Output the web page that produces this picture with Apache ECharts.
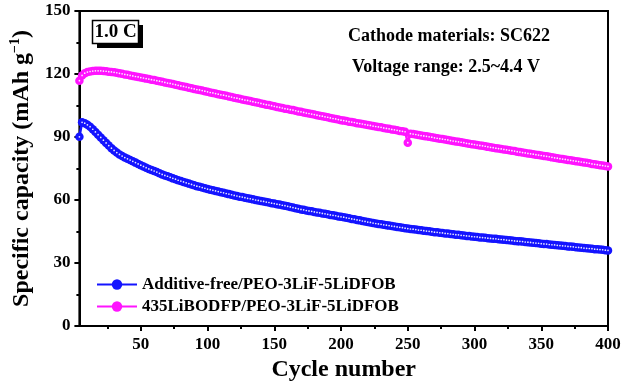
<!DOCTYPE html>
<html>
<head>
<meta charset="utf-8">
<script src="https://cdn.jsdelivr.net/npm/echarts@6/dist/echarts.min.js"></script>
<style>
  html, body { margin: 0; padding: 0; background: #fff; }
  #chart { width: 625px; height: 389px; }
</style>
</head>
<body>
<div id="chart"></div>
<script>
// Discharge capacity recorded every second cycle, from cycle 4 to 400
const firstCycle = 4;
const cycleStep = 2;

const additiveFree = [
  90.1, 97.0, 96.6, 95.8, 94.9, 93.7, 92.4, 91.1, 89.8, 88.5,
  87.2, 85.9, 84.7, 83.6, 82.6, 81.7, 80.9, 80.2, 79.6, 79.0,
  78.4, 77.8, 77.2, 76.6, 76.0, 75.4, 74.8, 74.3, 73.8, 73.3,
  72.7, 72.2, 71.7, 71.3, 70.8, 70.3, 69.9, 69.4, 69.0, 68.6,
  68.2, 67.8, 67.4, 67.0, 66.6, 66.3, 65.9, 65.6, 65.2, 64.9,
  64.6, 64.3, 64.0, 63.7, 63.4, 63.1, 62.8, 62.5, 62.2, 61.9,
  61.6, 61.4, 61.1, 60.8, 60.6, 60.3, 60.0, 59.8, 59.5, 59.3,
  59.0, 58.8, 58.5, 58.3, 58.0, 57.8, 57.5, 57.3, 57.0, 56.7,
  56.4, 56.1, 55.8, 55.5, 55.3, 55.0, 54.8, 54.6, 54.3, 54.1,
  53.9, 53.6, 53.4, 53.2, 52.9, 52.7, 52.5, 52.2, 52.0, 51.8,
  51.5, 51.3, 51.0, 50.8, 50.5, 50.3, 50.0, 49.8, 49.5, 49.3,
  49.0, 48.8, 48.6, 48.4, 48.2, 48.0, 47.8, 47.6, 47.4, 47.2,
  47.0, 46.8, 46.6, 46.4, 46.2, 46.1, 45.9, 45.7, 45.6, 45.4,
  45.2, 45.1, 44.9, 44.7, 44.6, 44.4, 44.3, 44.1, 44.0, 43.8,
  43.7, 43.5, 43.4, 43.2, 43.1, 42.9, 42.8, 42.6, 42.5, 42.4,
  42.2, 42.1, 42.0, 41.8, 41.7, 41.6, 41.5, 41.3, 41.2, 41.1,
  40.9, 40.8, 40.7, 40.5, 40.4, 40.3, 40.2, 40.0, 39.9, 39.8,
  39.6, 39.5, 39.4, 39.2, 39.1, 39.0, 38.8, 38.7, 38.6, 38.4,
  38.3, 38.2, 38.1, 37.9, 37.8, 37.7, 37.5, 37.4, 37.3, 37.1,
  37.0, 36.9, 36.8, 36.6, 36.5, 36.4, 36.3, 36.1, 36.0
];

const withLiBODFP = [
  116.8, 119.3, 120.4, 120.9, 121.2, 121.4, 121.5, 121.5, 121.5, 121.4,
  121.3, 121.1, 121.0, 120.8, 120.6, 120.3, 120.1, 119.8, 119.6, 119.3,
  119.1, 118.8, 118.6, 118.3, 118.1, 117.8, 117.6, 117.3, 117.1, 116.8,
  116.6, 116.3, 116.0, 115.7, 115.5, 115.2, 114.9, 114.6, 114.3, 114.1,
  113.8, 113.5, 113.2, 112.9, 112.6, 112.4, 112.1, 111.8, 111.5, 111.2,
  111.0, 110.7, 110.4, 110.1, 109.9, 109.6, 109.3, 109.0, 108.7, 108.5,
  108.2, 107.9, 107.6, 107.4, 107.1, 106.8, 106.5, 106.3, 106.0, 105.7,
  105.4, 105.2, 104.9, 104.6, 104.3, 104.1, 103.8, 103.5, 103.3, 103.0,
  102.8, 102.5, 102.2, 102.0, 101.7, 101.4, 101.2, 100.9, 100.7, 100.4,
  100.1, 99.9, 99.6, 99.4, 99.1, 98.8, 98.6, 98.3, 98.0, 97.8,
  97.6, 97.3, 97.1, 96.9, 96.6, 96.4, 96.2, 95.9, 95.7, 95.5,
  95.2, 95.0, 94.8, 94.6, 94.3, 94.1, 93.9, 93.6, 93.4, 93.2,
  92.9, 92.7, 92.5, 87.3, 91.6, 91.4, 91.2, 90.9, 90.7, 90.5,
  90.3, 90.1, 89.9, 89.6, 89.4, 89.2, 89.0, 88.8, 88.6, 88.3,
  88.1, 87.9, 87.7, 87.5, 87.3, 87.0, 86.8, 86.6, 86.4, 86.2,
  86.0, 85.8, 85.6, 85.3, 85.1, 84.9, 84.7, 84.5, 84.3, 84.1,
  83.9, 83.7, 83.5, 83.3, 83.0, 82.8, 82.6, 82.4, 82.2, 82.0,
  81.8, 81.6, 81.4, 81.2, 81.0, 80.8, 80.6, 80.3, 80.1, 79.9,
  79.7, 79.5, 79.3, 79.1, 78.9, 78.7, 78.5, 78.3, 78.1, 77.9,
  77.7, 77.5, 77.2, 77.0, 76.8, 76.6, 76.4, 76.2, 76.0
];

const seriesNames = ['Additive-free/PEO-3LiF-5LiDFOB', '435LiBODFP/PEO-3LiF-5LiDFOB'];
const xMajorTicks = [50, 100, 150, 200, 250, 300, 350, 400];
const xMinorTicks = [25, 75, 125, 175, 225, 275, 325, 375];
const yTicks = [0, 30, 60, 90, 120, 150];

const BLUE = '#1414ff';
const PINK = '#ff14ff';
const FONT = '"Liberation Serif", "Times New Roman", serif';

function pairs(values) {
  return values.map((v, i) => [firstCycle + i * cycleStep, v]);
}

// bright centre drawn on top of each ball marker
function glints(values) {
  return {
    type: 'scatter', data: pairs(values), silent: true,
    symbol: 'circle', symbolSize: 1.7, z: 3,
    itemStyle: { color: '#ffffff', opacity: 0.9 }
  };
}

const chart = echarts.init(document.getElementById('chart'), null, { renderer: 'canvas' });

const option = {
  animation: false,
  backgroundColor: '#ffffff',
  grid: {
    left: 77, right: 17, top: 11, bottom: 63,
    show: true, borderColor: '#000', borderWidth: 2, backgroundColor: 'transparent'
  },
  legend: {
    orient: 'vertical',
    left: 91, top: 271,
    itemWidth: 40, itemHeight: 13, itemGap: 5,
    textStyle: { fontFamily: FONT, fontWeight: 'bold', fontSize: 17, color: '#000' },
    data: seriesNames
  },
  xAxis: [
    {
      type: 'value', min: firstCycle, max: 400,
      axisLine: { show: true, lineStyle: { color: '#000', width: 2 } },
      axisTick: { show: true, customValues: xMajorTicks, length: 5, lineStyle: { color: '#000', width: 2 } },
      axisLabel: {
        customValues: xMajorTicks, margin: 10,
        fontFamily: FONT, fontWeight: 'bold', fontSize: 17, color: '#000'
      },
      splitLine: { show: false },
      name: 'Cycle number', nameLocation: 'middle', nameGap: 30,
      nameTextStyle: { fontFamily: FONT, fontWeight: 'bold', fontSize: 24, color: '#000' }
    },
    {
      type: 'value', min: firstCycle, max: 400, position: 'bottom',
      axisLine: { show: false },
      axisTick: { show: true, customValues: xMinorTicks, length: 3, lineStyle: { color: '#000', width: 2 } },
      axisLabel: { show: false },
      splitLine: { show: false }
    }
  ],
  yAxis: {
    type: 'value', min: 0, max: 150, interval: 30,
    axisLine: { show: true, lineStyle: { color: '#000', width: 2 } },
    axisTick: { show: true, length: 5, lineStyle: { color: '#000', width: 2 } },
    minorTick: { show: true, splitNumber: 2, length: 3, lineStyle: { color: '#000', width: 2 } },
    axisLabel: {
      margin: 9, fontFamily: FONT, fontWeight: 'bold', fontSize: 17, color: '#000',
      formatter: v => (yTicks.indexOf(v) >= 0 ? String(v) : '')
    },
    splitLine: { show: false },
    minorSplitLine: { show: false },
    name: '{a|Specific capacity (mAh g}{s|−1}{a|)}',
    nameLocation: 'middle', nameGap: 34, nameRotate: 90,
    nameTextStyle: {
      fontFamily: FONT, fontWeight: 'bold', color: '#000',
      rich: {
        a: { fontFamily: FONT, fontWeight: 'bold', fontSize: 24, color: '#000', lineHeight: 28 },
        s: { fontFamily: FONT, fontWeight: 'bold', fontSize: 14, color: '#000', verticalAlign: 'top', lineHeight: 28, padding: [0, 0, 10, 0] }
      }
    }
  },
  series: [
    {
      name: seriesNames[0], type: 'line', data: pairs(additiveFree), z: 2,
      symbol: 'circle', symbolSize: 8.5, showAllSymbol: true,
      lineStyle: { color: BLUE, width: 2.5 },
      itemStyle: { color: BLUE, borderWidth: 0 }
    },
    {
      name: seriesNames[1], type: 'line', data: pairs(withLiBODFP), z: 2,
      symbol: 'circle', symbolSize: 8.5, showAllSymbol: true,
      lineStyle: { color: PINK, width: 2.5 },
      itemStyle: { color: PINK, borderWidth: 0 }
    },
    glints(additiveFree),
    glints(withLiBODFP)
  ],
  graphic: [
    { type: 'rect', shape: { x: 97, y: 25, width: 46, height: 23 }, style: { fill: '#000' }, z: 10 },
    { type: 'rect', shape: { x: 92.5, y: 20.5, width: 46, height: 23 }, style: { fill: '#fff', stroke: '#000', lineWidth: 1.5 }, z: 11 },
    {
      type: 'text', x: 115.5, y: 32.5, z: 12,
      style: { text: '1.0 C', fontFamily: FONT, fontWeight: 'bold', fontSize: 19, fill: '#000', align: 'center', verticalAlign: 'middle' }
    },
    {
      type: 'text', x: 449, y: 36, z: 12,
      style: { text: 'Cathode materials: SC622', fontFamily: FONT, fontWeight: 'bold', fontSize: 18, fill: '#000', align: 'center', verticalAlign: 'middle' }
    },
    {
      type: 'text', x: 446, y: 67, z: 12,
      style: { text: 'Voltage range: 2.5~4.4 V', fontFamily: FONT, fontWeight: 'bold', fontSize: 18, fill: '#000', align: 'center', verticalAlign: 'middle' }
    }
  ]
};

chart.setOption(option);
</script>
</body>
</html>
